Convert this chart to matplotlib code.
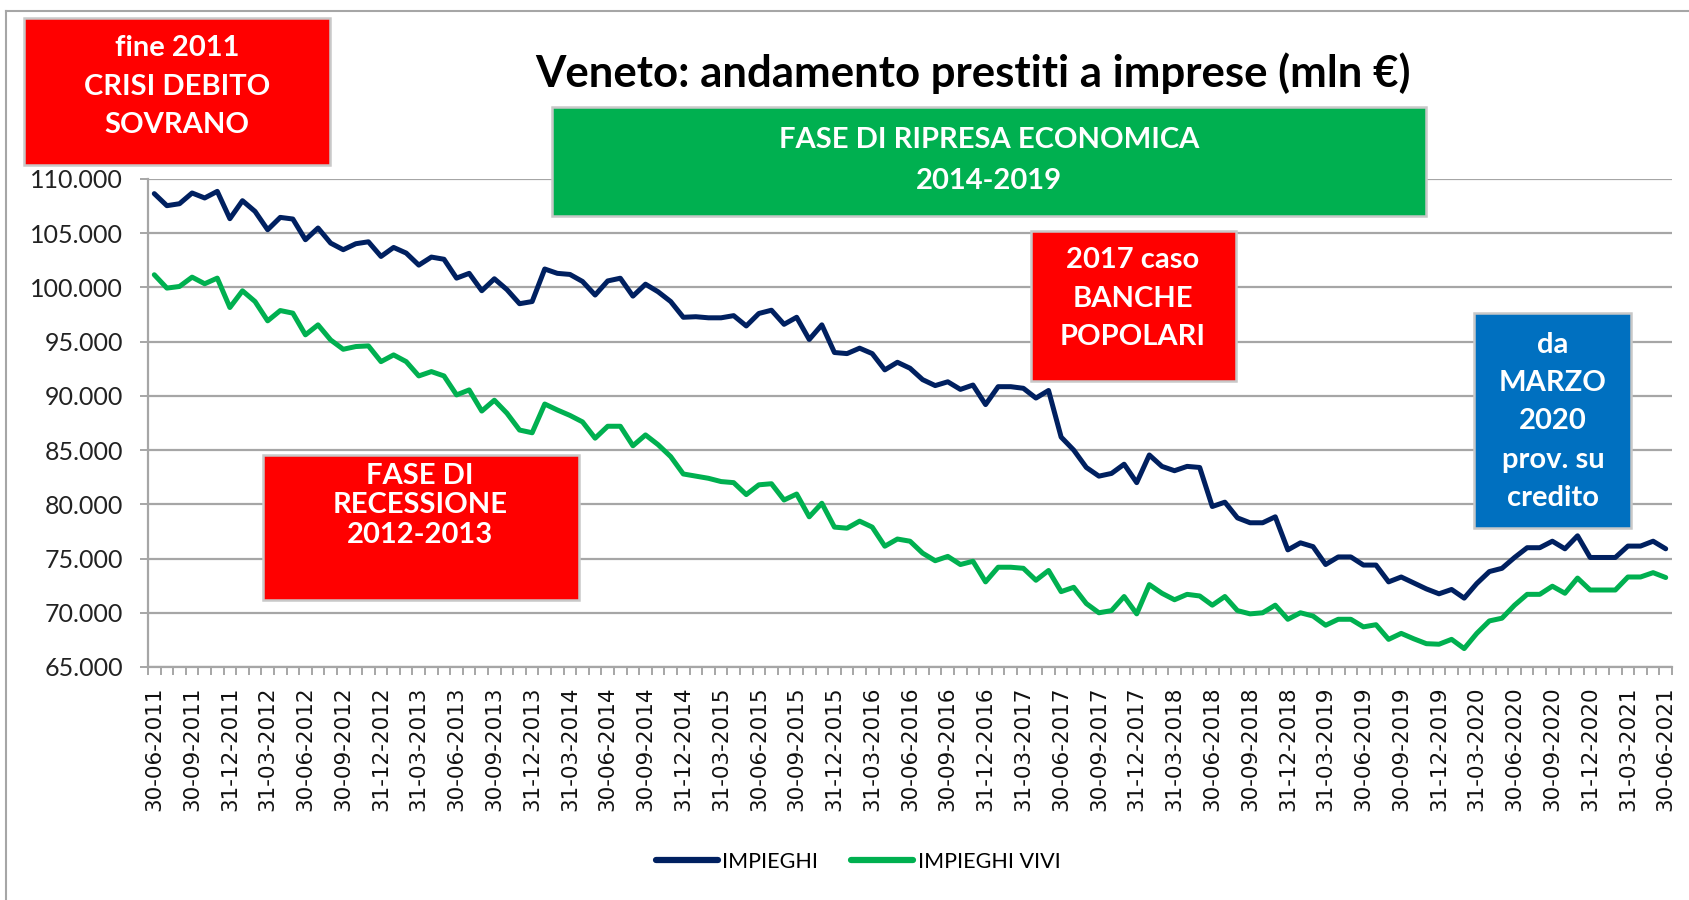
import matplotlib
matplotlib.use('Agg')
import matplotlib.pyplot as plt
import numpy as np
from matplotlib.ticker import FuncFormatter, FixedLocator, MultipleLocator
from matplotlib.patches import Rectangle
from matplotlib.lines import Line2D

W, H = 1690, 900

# Monthly data, 30-06-2011 ... 30-06-2021 (mln EUR)
impieghi = [
    108650, 107540, 107720, 108710, 108250, 108860, 106340, 108000, 107010, 105320,
    106460, 106310, 104400, 105480, 104090, 103480, 104030, 104210, 102860, 103690,
    103170, 102060, 102800, 102600, 100860, 101300, 99700, 100800, 99800, 98500,
    98700, 101700, 101300, 101200, 100550, 99300, 100600, 100850, 99200, 100300,
    99600, 98700, 97250, 97300, 97200, 97200, 97400, 96450, 97600, 97900,
    96600, 97250, 95200, 96550, 94000, 93900, 94400, 93900, 92400, 93100,
    92550, 91500, 90950, 91300, 90600, 91000, 89200, 90850, 90850, 90700,
    89800, 90500, 86200, 85000, 83400, 82600, 82850, 83700, 82000, 84550,
    83500, 83100, 83500, 83400, 79800, 80200, 78750, 78300, 78300, 78850,
    75800, 76450, 76100, 74450, 75150, 75150, 74400, 74400, 72850, 73300,
    72750, 72200, 71750, 72150, 71350, 72700, 73800, 74100, 75100, 76000,
    76000, 76600, 75900, 77100, 75100, 75100, 75100, 76150, 76150, 76600,
    75900,
]
impieghi_vivi = [
    101170, 99940, 100090, 100950, 100340, 100860, 98150, 99690, 98700, 96920,
    97870, 97630, 95630, 96550, 95160, 94300, 94550, 94610, 93160, 93780,
    93160, 91840, 92240, 91840, 90090, 90550, 88600, 89600, 88400, 86850,
    86600, 89250, 88700, 88200, 87600, 86100, 87200, 87200, 85400, 86400,
    85500, 84400, 82800, 82600, 82400, 82100, 82000, 80900, 81800, 81900,
    80400, 80950, 78850, 80100, 77900, 77800, 78450, 77900, 76140, 76800,
    76600, 75500, 74800, 75200, 74450, 74750, 72850, 74200, 74200, 74100,
    73000, 73900, 71950, 72350, 70850, 70000, 70200, 71500, 69900, 72600,
    71800, 71200, 71700, 71550, 70700, 71500, 70200, 69900, 70000, 70700,
    69400, 70000, 69700, 68850, 69400, 69400, 68700, 68900, 67550, 68100,
    67600, 67150, 67100, 67550, 66700, 68100, 69250, 69500, 70700, 71700,
    71700, 72450, 71800, 73200, 72100, 72100, 72100, 73300, 73300, 73700,
    73250,
]
# quarterly tick labels (every 3rd month)
tick_labels = [
    '30-06-2011', '30-09-2011', '31-12-2011', '31-03-2012', '30-06-2012', '30-09-2012',
    '31-12-2012', '31-03-2013', '30-06-2013', '30-09-2013', '31-12-2013', '31-03-2014',
    '30-06-2014', '30-09-2014', '31-12-2014', '31-03-2015', '30-06-2015', '30-09-2015',
    '31-12-2015', '31-03-2016', '30-06-2016', '30-09-2016', '31-12-2016', '31-03-2017',
    '30-06-2017', '30-09-2017', '31-12-2017', '31-03-2018', '30-06-2018', '30-09-2018',
    '31-12-2018', '31-03-2019', '30-06-2019', '30-09-2019', '31-12-2019', '31-03-2020',
    '30-06-2020', '30-09-2020', '31-12-2020', '31-03-2021', '30-06-2021',
]
series_names = ['IMPIEGHI', 'IMPIEGHI VIVI']
series_colors = ['#002060', '#00B050']

TITLE = 'Veneto: andamento prestiti a imprese (mln €)'
FONT = 'Lato'

fig = plt.figure(figsize=(W / 100, H / 100), dpi=100)
fig.patch.set_facecolor('white')

def fx(x):
    return x / W

def fy(y):
    return 1 - y / H

ax = fig.add_axes([fx(148), fy(667), (1672 - 148) / W, (667 - 179) / H])
n = len(impieghi)
x = np.arange(n)
ax.plot(x, impieghi, color=series_colors[0], lw=3.6, solid_joinstyle='round',
        solid_capstyle='round', zorder=3)
ax.plot(x, impieghi_vivi, color=series_colors[1], lw=3.6, solid_joinstyle='round',
        solid_capstyle='round', zorder=3)

ax.set_xlim(-0.5, n - 0.5)
ax.set_ylim(65000, 110000)
ax.yaxis.set_major_locator(MultipleLocator(5000))
ax.yaxis.set_major_formatter(FuncFormatter(lambda v, p: f'{v:,.0f}'.replace(',', '.')))
ax.grid(axis='y', color='#A6A6A6', lw=1.6, zorder=1)
ax.set_axisbelow(True)

for s in ['top', 'right']:
    ax.spines[s].set_visible(False)
for s in ['left', 'bottom']:
    ax.spines[s].set_color('#A6A6A6')
    ax.spines[s].set_linewidth(1.6)

ax.xaxis.set_major_locator(FixedLocator(np.arange(0, n, 3)))
ax.set_xticklabels(tick_labels, rotation=90, fontsize=15.5, family='DejaVu Sans',
                   color='#111111')
ax.xaxis.set_minor_locator(FixedLocator(np.arange(-0.5, n, 1.0)))
ax.tick_params(axis='x', which='major', length=0, pad=14)
ax.tick_params(axis='x', which='minor', length=5.5, width=1.4, color='#A6A6A6',
               direction='out')
ax.tick_params(axis='y', which='major', length=6, width=1.4, color='#A6A6A6',
               direction='out', pad=12, labelsize=18, labelcolor='#222222')
for lab in ax.get_yticklabels():
    lab.set_family(FONT)

# outer frame (left and top edges visible)
fig.add_artist(Line2D([fx(6), fx(6)], [fy(11), 0], color='#A6A6A6', lw=1.5,
                      transform=fig.transFigure))
fig.add_artist(Line2D([fx(6), 1], [fy(11), fy(11)], color='#A6A6A6', lw=1.5,
                      transform=fig.transFigure))

# title
fig.text(fx(973), fy(73), TITLE, ha='center', va='center', fontsize=31.5,
         fontweight='bold', family=FONT, color='black')

def box(x0, y0, x1, y1, color, lines, ys, cx, fs=21, zorder=5):
    fig.add_artist(Rectangle((fx(x0), fy(y1)), (x1 - x0) / W, (y1 - y0) / H,
                             transform=fig.transFigure, facecolor=color,
                             edgecolor='#C8C8C8', lw=1.8, zorder=zorder))
    for t, yy in zip(lines, ys):
        fig.text(fx(cx), fy(yy), t, ha='center', va='center', fontsize=fs,
                 fontweight='bold', family=FONT, color='white', zorder=zorder + 1)

box(24, 18, 330, 165, '#FF0000', ['fine 2011', 'CRISI DEBITO', 'SOVRANO'],
    [48, 87, 125], 177)
box(552, 107, 1426, 216, '#00B050', ['FASE DI RIPRESA ECONOMICA', '2014-2019'],
    [140, 181], 989)
box(1031, 231, 1236, 381, '#FF0000', ['2017 caso', 'BANCHE', 'POPOLARI'],
    [260, 299, 337], 1133)
box(263, 455, 579, 600, '#FF0000', ['FASE DI', 'RECESSIONE', '2012-2013'],
    [476, 505, 535], 420)
box(1474, 313, 1631, 528, '#0070C0', ['da', 'MARZO', '2020', 'prov. su', 'credito'],
    [345, 383, 421, 460, 498], 1553)

handles = [Line2D([], [], color=c, lw=4.5, solid_capstyle='round') for c in series_colors]
leg = fig.legend(handles, series_names, loc='center',
                 bbox_to_anchor=(fx(858), fy(862)), ncol=2, frameon=False,
                 handlelength=2.9, handletextpad=0.2, columnspacing=1.5,
                 prop={'family': FONT, 'size': 15.5})

fig.savefig('out.png', dpi=100, facecolor='white')
